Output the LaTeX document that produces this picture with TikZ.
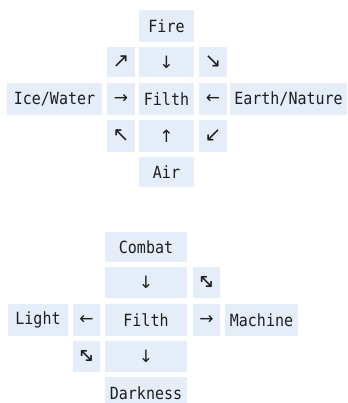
\documentclass[tikz,border=0pt]{standalone}
\usepackage{fontspec}
\setmonofont{DejaVu Sans Mono}
\newfontfamily\arrowfont{DejaVu Sans}
\definecolor{cellfill}{RGB}{228,237,248}
\definecolor{inkc}{RGB}{30,30,30}
\tikzset{
  cell/.style={fill=cellfill, draw=none, inner sep=0pt, text=inkc,
    font=\ttfamily\fontsize{15}{15}\selectfont},
  arrowcell/.style={cell, font=\arrowfont\fontsize{17}{17}\selectfont},
  diagcell/.style={cell, font=\arrowfont\fontsize{20}{20}\selectfont}
}
\newcommand{\lbl}[1]{\scalebox{1}[1.12]{#1}}
\newcommand{\nwse}{\rotatebox[origin=c]{-45}{↔}}
\begin{document}
\begin{tikzpicture}[x=1pt,y=-1pt]
  \fill[white] (0,0) rectangle (347,403);
  \useasboundingbox (0,0) rectangle (347,403);

  % upper chart: the four elements around Filth
  \node[cell, minimum width=55pt, minimum height=32pt] (fire) at (166.5,26) {\lbl{Fire}};
  \node[diagcell, minimum width=28pt, minimum height=30pt] (ne) at (121,62) {↗};
  \node[arrowcell, minimum width=55pt, minimum height=30pt] (down1) at (166.5,62) {↓};
  \node[diagcell, minimum width=28pt, minimum height=30pt] (se) at (213,62) {↘};
  \node[cell, minimum width=95pt, minimum height=32pt] (ice) at (54.5,99) {\lbl{Ice/Water}};
  \node[arrowcell, minimum width=28pt, minimum height=32pt] (right1) at (121,99) {→};
  \node[cell, minimum width=55pt, minimum height=32pt] (filth1) at (166.5,99) {\lbl{Filth}};
  \node[arrowcell, minimum width=28pt, minimum height=32pt] (left1) at (213,99) {←};
  \node[cell, minimum width=117pt, minimum height=32pt] (earth) at (288.5,99) {\lbl{Earth/Nature}};
  \node[diagcell, minimum width=28pt, minimum height=32pt] (nw) at (121,136) {↖};
  \node[arrowcell, minimum width=55pt, minimum height=32pt] (up1) at (166.5,136) {↑};
  \node[diagcell, minimum width=28pt, minimum height=32pt] (sw) at (213,136) {↙};
  \node[cell, minimum width=55pt, minimum height=30pt] (air) at (166.5,172) {\lbl{Air}};

  % lower chart: Combat, Light, Machine and Darkness
  \node[cell, minimum width=82pt, minimum height=30pt] (combat) at (146,247) {\lbl{Combat}};
  \node[arrowcell, minimum width=82pt, minimum height=31pt] (down2) at (146,282.5) {↓};
  \node[diagcell, minimum width=27pt, minimum height=31pt] (diag1) at (206.5,282.5) {\nwse};
  \node[cell, minimum width=60pt, minimum height=32pt] (light) at (38,320) {\lbl{Light}};
  \node[arrowcell, minimum width=27pt, minimum height=32pt] (left2) at (86.5,320) {←};
  \node[cell, minimum width=82pt, minimum height=32pt] (filth2) at (146,320) {\lbl{Filth}};
  \node[arrowcell, minimum width=27pt, minimum height=32pt] (right2) at (206.5,320) {→};
  \node[cell, minimum width=73pt, minimum height=32pt] (machine) at (261.5,320) {\lbl{Machine}};
  \node[diagcell, minimum width=27pt, minimum height=31pt] (diag2) at (86.5,356.5) {\nwse};
  \node[arrowcell, minimum width=82pt, minimum height=31pt] (down3) at (146,356.5) {↓};
  \node[cell, minimum width=82pt, minimum height=32pt] (darkness) at (146,393) {\lbl{Darkness}};
\end{tikzpicture}
\end{document}
